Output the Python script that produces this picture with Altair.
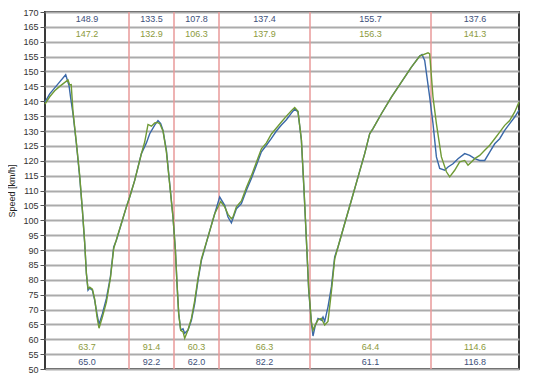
import altair as alt
import pandas as pd

# ---- data ----
X0 = 45.3  # start of the distance axis in the trace readings

blue_x = [45.3, 50, 55, 60, 66, 69.3, 71, 73.3, 76.7, 80, 82.7, 85, 86.7, 88.3, 90, 92.7, 95, 97.3, 99.3,
          102.7, 106.7, 110.7, 114, 116.7, 121.7, 126.7, 130, 135, 141.7, 146.7, 150, 155, 158.3, 161, 163.3,
          166.7, 170, 173.3, 175.7, 177.3, 179, 181, 183.3, 185, 188.3, 191.7, 195, 198.3, 201.7, 208.3, 215,
          220, 225, 228.3, 231.7, 236.7, 241.7, 246.7, 251.7, 256.7, 261.7, 266.7, 271.7, 276.7, 281.7, 286.7,
          291.7, 295, 298.3, 301.7, 304.3, 306.7, 309, 311.7, 313.3, 315.5, 318.3, 321.7, 323.3, 325, 328.3,
          331.7, 335, 338.3, 345, 351.7, 358.3, 365, 370, 373.3, 381.7, 391.7, 401.7, 411.7, 420, 422.3, 425,
          430, 433.3, 436.7, 440, 445, 448.3, 453.3, 458.3, 465, 470, 475, 480, 485, 490, 495, 500, 505, 510,
          515, 519.3]
blue_v = [139.7, 142.5, 144.5, 146.5, 148.9, 145.3, 141, 135.8, 125.7, 114.5, 103.3, 92.2, 82.1, 76.5, 77.2,
          76.5, 73.1, 68.5, 65.0, 68.6, 73.7, 81, 91, 93.3, 98.9, 104.5, 107.8, 113.4, 122.4, 126, 129.1, 132,
          133.5, 132.5, 130.2, 123.5, 112.3, 101.1, 90, 78.7, 68.7, 63.1, 63.5, 62.0, 63.1, 66.4, 72, 79.8, 86.5,
          94.4, 102.2, 107.8, 105, 101.1, 99.1, 103.9, 105.6, 110.1, 114, 118.5, 123, 125.2, 127.5, 130, 132,
          133.8, 136, 137.4, 136.4, 126.9, 110.1, 93.3, 76.5, 65.3, 61.1, 64.5, 67, 66.4, 67.5, 66, 70.9, 77.6,
          87.7, 91, 98.9, 106.7, 114.5, 122.4, 129.1, 130.8, 135.8, 141.4, 146.4, 151.5, 155.2, 155.7, 153.7,
          141.4, 132.5, 121.3, 117.4, 116.8, 117.9, 119, 120.7, 122.4, 121.8, 120.7, 120.1, 120.1, 122.9, 125.7,
          127.4, 130.2, 132.5, 134.7, 137]

green_x = [45.3, 50, 55, 60, 68.3, 70, 71.5, 73.3, 76.7, 80, 82.7, 85, 86.7, 88.3, 90, 92.7, 95, 97.3, 99.3,
           102.7, 106.7, 110.7, 114, 116.7, 121.7, 126.7, 130, 135, 141.7, 145, 148.3, 151.7, 155, 157.5, 160,
           163.3, 166.7, 170, 173.3, 175.7, 177.3, 179, 181, 183.3, 185, 188.3, 191.7, 195, 198.3, 201.7, 208.3,
           215, 221, 225, 228.3, 231.7, 233.3, 236.7, 241.7, 246.7, 251.7, 256.7, 261.7, 266.7, 271.7, 276.7,
           281.7, 286.7, 291.7, 295, 298.3, 301.7, 304.3, 306.7, 309, 311.7, 313.3, 315, 318.3, 321.7, 325,
           328.3, 331.7, 335, 338.3, 345, 351.7, 358.3, 365, 370, 373.3, 381.7, 391.7, 401.7, 411.7, 420, 428.3,
           430, 433.3, 436.7, 441.7, 446.7, 450, 455, 460, 465, 468.3, 471.7, 475, 480, 485, 490, 495, 500, 505,
           510, 515, 519.3]
green_v = [139.0, 141.5, 143.5, 145, 147.2, 145.5, 145.6, 136.5, 126, 115, 103.5, 92.5, 82, 77, 77.5, 76.8,
           73.5, 67.5, 63.7, 67.5, 72.5, 80.5, 90.5, 93.5, 99, 104.5, 107.8, 113.4, 122.4, 126.3, 132.2, 131.6,
           132.7, 132.9, 132.5, 130, 123, 112, 101, 90, 78.7, 68.5, 63, 62.5, 60.3, 63.1, 67, 73, 80.5, 87, 94.4,
           102.2, 106.3, 104.5, 102, 100.5, 101.1, 104.5, 106.5, 111, 115, 119.5, 124, 126, 129, 131, 133, 135,
           136.8, 137.9, 136.6, 127, 110.5, 93.5, 77, 66, 63, 64.4, 66.5, 67, 64.8, 66, 76, 87, 91, 98.9, 106.7,
           114.5, 122.4, 129.1, 130.8, 135.8, 141.4, 146.4, 151.5, 155.2, 156.3, 155.9, 141.4, 132.5, 121.3,
           116.3, 114.6, 116.8, 119.6, 120.1, 118.5, 119.6, 120.7, 121.8, 123.5, 125.2, 127.4, 129.6, 131.9,
           133.5, 136.4, 139.7]

sector_bounds = [0, 84, 129, 174, 265, 386, 474]
max_blue = [148.9, 133.5, 107.8, 137.4, 155.7, 137.6]
max_green = [147.2, 132.9, 106.3, 137.9, 156.3, 141.3]
min_green = [63.7, 91.4, 60.3, 66.3, 64.4, 114.6]
min_blue = [65.0, 92.2, 62.0, 82.2, 61.1, 116.8]

# ---- tables ----
lines = pd.concat([
    pd.DataFrame({"d": [x - X0 for x in blue_x], "v": blue_v, "s": "A", "o": range(len(blue_x))}),
    pd.DataFrame({"d": [x - X0 for x in green_x], "v": green_v, "s": "B", "o": range(len(green_x))}),
])

centers = [(a + b) / 2 for a, b in zip(sector_bounds[:-1], sector_bounds[1:])]
rows = []
for lst, yv, col in [(max_blue, 167.5, "#40507a"), (max_green, 162.5, "#8c9a3c"),
                     (min_green, 57.5, "#8c9a3c"), (min_blue, 52.5, "#40507a")]:
    for c, val in zip(centers, lst):
        rows.append({"d": c, "y": yv, "t": f"{val:.1f}", "c": col})
texts = pd.DataFrame(rows)
bounds = pd.DataFrame({"d": sector_bounds[1:-1]})

xs = alt.Scale(domain=[0, 474], nice=False, zero=False)
ys = alt.Scale(domain=[50, 170], nice=False, zero=False)

yaxis = alt.Axis(values=list(range(50, 171, 5)), grid=True, gridColor="#ababab", gridWidth=2,
                 tickColor="#555555", tickSize=5, labelFontSize=9, labelColor="#333333",
                 labelFont="Liberation Sans", labelPadding=2, domain=False,
                 title="Speed [km/h]", titleFont="Liberation Sans", titleFontSize=9,
                 titleFontWeight="normal", titleColor="#222222", titlePadding=6)

grid = alt.Chart(bounds).mark_rule(color="#e89a9a", strokeWidth=1.5).encode(
    x=alt.X("d:Q", scale=xs, axis=None),
    y=alt.value(0), y2=alt.value(357),
)

base_y = alt.Chart(pd.DataFrame({"v": [50]})).mark_point(opacity=0).encode(
    y=alt.Y("v:Q", scale=ys, axis=yaxis))

line = alt.Chart(lines).mark_line(strokeWidth=1.4, interpolate="linear").encode(
    x=alt.X("d:Q", scale=xs, axis=None),
    y=alt.Y("v:Q", scale=ys, axis=yaxis),
    color=alt.Color("s:N", scale=alt.Scale(domain=["A", "B"], range=["#3a68a8", "#6f9a35"]), legend=None),
    order="o:Q",
    detail="s:N",
)

txt = alt.Chart(texts).mark_text(fontSize=9, font="Liberation Sans").encode(
    x=alt.X("d:Q", scale=xs, axis=None),
    y=alt.Y("y:Q", scale=ys, axis=yaxis),
    text="t:N",
    color=alt.Color("c:N", scale=None),
)

chart = alt.layer(base_y, grid, line, txt).properties(
    width=474, height=357,
    autosize=alt.AutoSizeParams(type="none"),
    padding={"left": 37, "top": 4, "right": 8, "bottom": 11},
    background="white",
).configure_view(stroke="#3a3a3a", strokeWidth=2)

chart.save("out.html", embed_options={"renderer": "svg", "actions": False})
